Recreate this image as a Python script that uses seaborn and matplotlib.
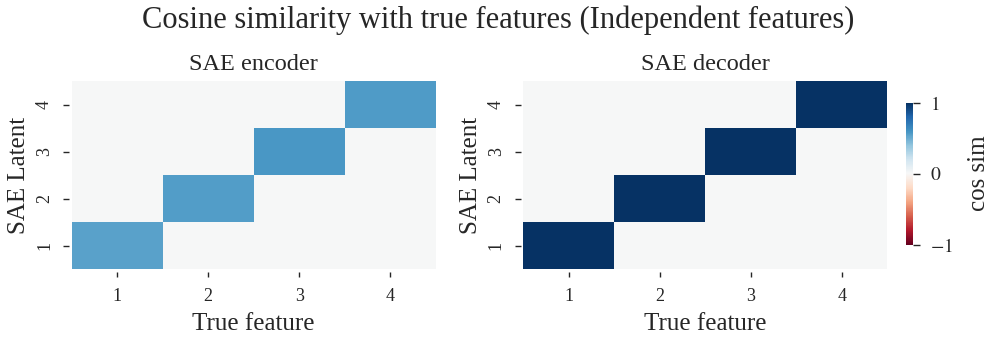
import numpy as np
import pandas as pd
import matplotlib
matplotlib.use("Agg")
import matplotlib.pyplot as plt
import seaborn as sns

sns.set_style("ticks")
plt.rcParams['font.family'] = ['Liberation Serif', 'DejaVu Serif']
plt.rcParams['mathtext.fontset'] = 'stix'

features = [1, 2, 3, 4]
latents = [1, 2, 3, 4]

# cos sim, rows = SAE latent 1..4, cols = true feature 1..4
encoder_diag = [0.54, 0.555, 0.585, 0.57]
decoder_diag = [0.99, 0.99, 0.99, 0.99]
off_diag = 0.0


def make_df(diag):
    m = np.full((len(latents), len(features)), off_diag)
    for i, v in enumerate(diag):
        m[i, i] = v
    df = pd.DataFrame(m, index=latents, columns=features)
    return df.iloc[::-1]  # latent 4 on top


fig = plt.figure(figsize=(9.97, 3.42), dpi=100)
ax1 = fig.add_axes([0.072, 0.213, 0.365, 0.55])
ax2 = fig.add_axes([0.525, 0.213, 0.365, 0.55])
cax = fig.add_axes([0.909, 0.285, 0.007, 0.415])

sns.heatmap(make_df(encoder_diag), ax=ax1, cmap='RdBu', vmin=-1, vmax=1, cbar=False)
sns.heatmap(make_df(decoder_diag), ax=ax2, cmap='RdBu', vmin=-1, vmax=1,
            cbar_ax=cax, cbar_kws={'ticks': [-1, 0, 1]})

for ax, title in [(ax1, 'SAE encoder'), (ax2, 'SAE decoder')]:
    ax.set_title(title, fontsize=17.5, pad=8)
    ax.set_xlabel('True feature', fontsize=18, labelpad=6)
    ax.set_ylabel('SAE Latent', fontsize=18, labelpad=4)
    ax.spines['bottom'].set_position(('outward', 2))
    ax.spines['left'].set_position(('outward', 2))
    ax.tick_params(labelsize=13, length=3.5, width=1, pad=8)
    ax.tick_params(axis='y', length=4.5, pad=7)
    plt.setp(ax.get_yticklabels(), rotation=90, va='center')

cax.tick_params(labelsize=14, length=5, width=1, pad=7)
cax.set_yticklabels(['$-1$', '$0$', '$1$'])
cax.set_ylabel('cos sim', fontsize=18, labelpad=11)
for s in cax.spines.values():
    s.set_visible(False)

fig.suptitle('Cosine similarity with true features (Independent features)',
             fontsize=22, y=0.985, va='top')
fig.savefig('out.png', dpi=100)
